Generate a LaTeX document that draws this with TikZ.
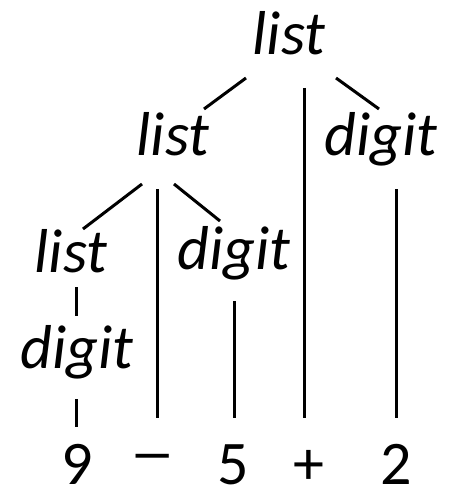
\documentclass[tikz,border=0pt]{standalone}
\usepackage{fontspec}
\setmainfont{Carlito}
\begin{document}
\begin{tikzpicture}[x=1pt,y=-1pt,
  nt/.style={inner sep=0pt,anchor=base,font=\fontsize{62}{70}\selectfont\itshape},
  tm/.style={inner sep=0pt,anchor=base,font=\fontsize{62}{70}\selectfont},
  edge/.style={line width=3pt,line cap=butt}]
\useasboundingbox (0,0) rectangle (449,486);
\node[nt] (T)  at (289,55)  {list};
\node[nt] (L1) at (173,156) {list};
\node[nt] (D1) at (381,156) {digit};
\node[nt] (L2) at (71,272)  {list};
\node[nt] (D2) at (234,269) {digit};
\node[nt] (D3) at (77,368)  {digit};
\node[tm] (n9) at (77,484)  {9};
\node[tm] (mi) at (153,473) {\scalebox{1.5}[1]{–}};
\node[tm] (n5) at (233,484) {5};
\node[tm] (pl) at (309,484) {+};
\node[tm] (n2) at (396,484) {2};
% top list
\draw[edge] ([shift={(-43,23)}]T.base) -- ([shift={(31,-47)}]L1.base);
\draw[edge] ([shift={(15,33)}]T.base) -- ([shift={(-5,-66)}]pl.base);
\draw[edge] ([shift={(47,23)}]T.base) -- ([shift={(-2,-47)}]D1.base);
% mid list
\draw[edge] ([shift={(-31,28)}]L1.base) -- ([shift={(12,-43)}]L2.base);
\draw[edge] ([shift={(-16,33)}]L1.base) -- ([shift={(-152,-66)}]pl.base);
\draw[edge] ([shift={(1,28)}]L1.base) -- ([shift={(-14,-48)}]D2.base);
% right digit
\draw[edge] ([shift={(15,33)}]D1.base) -- ([shift={(0,-66)}]n2.base);
% lower left
\draw[edge] ([shift={(5,15)}]L2.base) -- ([shift={(-1,-52)}]D3.base);
\draw[edge] ([shift={(-1,31)}]D3.base) -- ([shift={(-1,-57)}]n9.base);
% mid digit
\draw[edge] ([shift={(0,32)}]D2.base) -- ([shift={(1,-66)}]n5.base);
\end{tikzpicture}
\end{document}
